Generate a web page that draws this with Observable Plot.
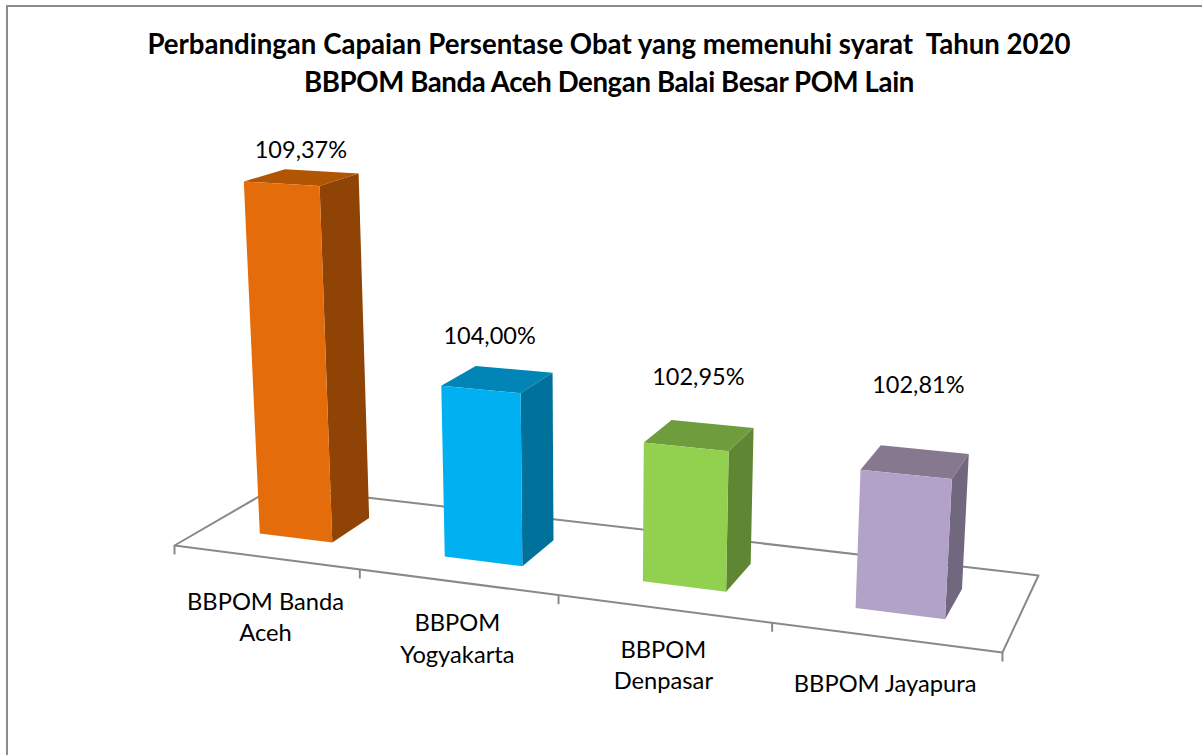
<!DOCTYPE html>
<html>
<head>
<meta charset="utf-8">
<script src="https://cdn.jsdelivr.net/npm/d3@7"></script>
<script src="https://cdn.jsdelivr.net/npm/@observablehq/plot@0.6"></script>
<style>
  html, body { margin: 0; padding: 0; background: #fff; overflow: hidden; }
  #frame { position: absolute; left: 6px; top: 5px; width: 1196px; height: 750px;
           border-left: 2px solid #8c8c8c; border-top: 2px solid #8c8c8c; box-sizing: border-box; }
  #title { position: absolute; left: 0; top: 25px; width: 1218px; text-align: center; white-space: pre;
           font: 700 27.6px/38px Lato, sans-serif; color: #000; }
  #title .second { letter-spacing: -0.39px; }
  #chart { position: absolute; left: 0; top: 110px; }
</style>
</head>
<body>
<div id="frame"></div>
<div id="title">Perbandingan Capaian Persentase Obat yang memenuhi syarat  Tahun 2020
<span class="second">BBPOM Banda Aceh Dengan Balai Besar POM Lain</span></div>
<div id="chart"></div>
<script>
// ---- data ----
const categories = ["BBPOM Banda\nAceh", "BBPOM\nYogyakarta", "BBPOM\nDenpasar", "BBPOM Jayapura"];
const values = [109.37, 104.00, 102.95, 102.81];
const valueLabels = ["109,37%", "104,00%", "102,95%", "102,81%"];

// ---- style ----
const frontColors = ["#E46C0A", "#00B0F0", "#92D050", "#B3A2C7"];
const topColors   = ["#B05504", "#0085B6", "#6F9C3D", "#86798F"];
const sideColors  = ["#8F4405", "#00719B", "#5F8733", "#716880"];
const axisColor = "#898989";

// ---- 3D view of the Excel chart: category/depth floor plus a vertical value axis ----
const baseValue = 99;
const barHalfWidth = 0.05, depthFront = 0.3, depthBack = 0.7;
const valueLabelNudge = [[-1, -27], [-8, -43], [-1, -58], [3, -76]];
const categoryLabelNudge = [58, 55, 55, 45];
const tickLength = 9;
const view = {
  a: 692.7, b: 126.2, c: 174, d: 19, e: -14, f: 545, g: -0.135, h: 0.0916,
  vx: 594, vy: 7900, perValue: -0.004474
};
function project(s, t, value = baseValue) {
  const q = (value - baseValue) * view.perValue;
  const w = view.g * s + view.h * t + 1 + q;
  return {
    x: (view.a * s + view.b * t + view.c + q * view.vx) / w,
    y: (view.d * s + view.e * t + view.f + q * view.vy) / w
  };
}

// faces of each bar
const faces = values.flatMap((v, i) => {
  const sc = (i + 0.5) / categories.length;
  const s0 = sc - barHalfWidth, s1 = sc + barHalfWidth;
  const face = (name, color, corners) =>
    corners.map(([s, t, val]) => ({...project(s, t, val), face: `${i}-${name}`, color}));
  return [
    ...face("top", topColors[i], [[s0, depthFront, v], [s1, depthFront, v], [s1, depthBack, v], [s0, depthBack, v]]),
    ...face("side", sideColors[i], [[s1, depthFront, baseValue], [s1, depthBack, baseValue], [s1, depthBack, v], [s1, depthFront, v]]),
    ...face("front", frontColors[i], [[s0, depthFront, baseValue], [s1, depthFront, baseValue], [s1, depthFront, v], [s0, depthFront, v]])
  ];
});

const floor = [[0, 0], [1, 0], [1, 1], [0, 1], [0, 0]].map(([s, t]) => project(s, t));
const ticks = d3.range(categories.length + 1).map(i => project(i / categories.length, 0));
const valueText = values.map((v, i) => {
  const p = project((i + 0.5) / categories.length, 0.5, v);
  return {x: p.x + valueLabelNudge[i][0], y: p.y + valueLabelNudge[i][1], text: valueLabels[i]};
});
const categoryText = categories.map((c, i) => {
  const p = project((i + 0.5) / categories.length, 0);
  return {x: p.x, y: p.y + categoryLabelNudge[i], text: c};
});

const headerHeight = 110, W = 1202, H = 755;
const chart = Plot.plot({
  width: W,
  height: H - headerHeight,
  margin: 0,
  style: {background: "transparent", fontFamily: "Lato, sans-serif"},
  x: {domain: [0, W], range: [0, W], axis: null},
  y: {domain: [headerHeight, H], range: [0, H - headerHeight], axis: null},
  color: {type: "identity"},
  marks: [
    Plot.line(floor, {x: "x", y: "y", stroke: axisColor, strokeWidth: 2, curve: "linear"}),
    Plot.link(ticks, {x1: "x", y1: "y", x2: "x", y2: d => d.y + tickLength, stroke: axisColor, strokeWidth: 2}),
    Plot.line(faces, {x: "x", y: "y", z: "face", fill: "color", stroke: "none", curve: "linear"}),
    Plot.text(valueText, {x: "x", y: "y", text: "text", fontSize: 23.5, fill: "#000"}),
    Plot.text(categoryText, {x: "x", y: "y", text: "text", fontSize: 23.7, lineHeight: 1.31, fill: "#000"})
  ]
});
document.getElementById("chart").append(chart);
</script>
</body>
</html>
